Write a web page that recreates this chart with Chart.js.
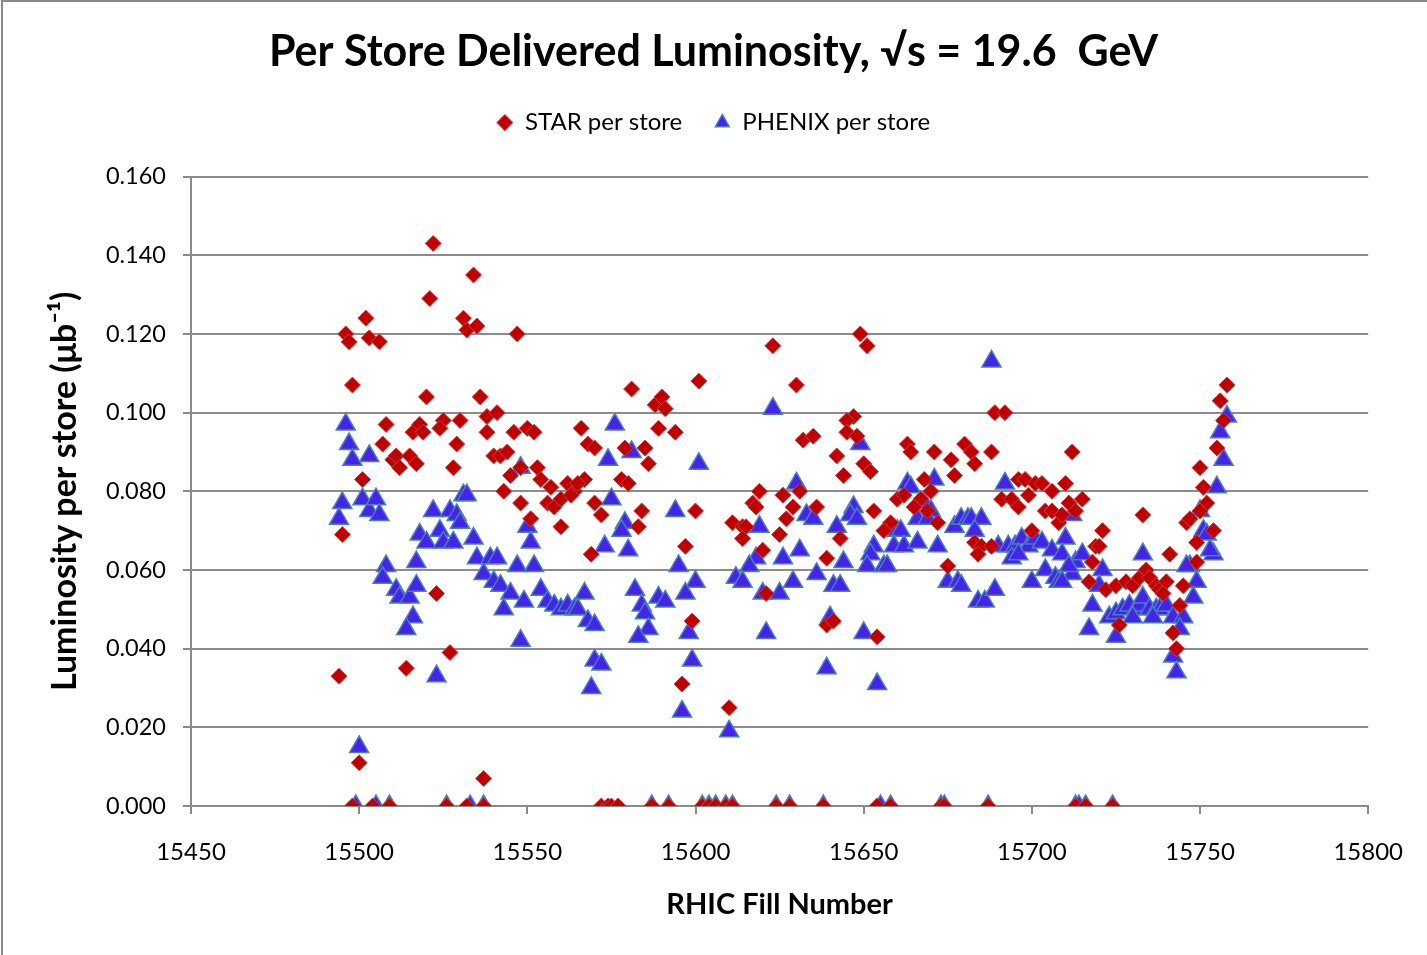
<!DOCTYPE html>
<html>
<head>
<meta charset="utf-8">
<script src="https://cdn.jsdelivr.net/npm/chart.js@4.4.1/dist/chart.umd.min.js"></script>
<style>
  html, body { margin: 0; padding: 0; background: #fff; }
  #wrap { width: 1427px; height: 955px; position: relative; }
</style>
</head>
<body>
<div id="wrap"><canvas id="c" width="1427" height="955"></canvas></div>
<script>
const chartTitle = 'Per Store Delivered Luminosity, \u221As = 19.6  GeV';
const xTitle = 'RHIC Fill Number';
const yTitle = 'Luminosity per store (\u03BCb\u207B\u00B9)';
const seriesNames = ['STAR per store', 'PHENIX per store'];

const starFills = [
15522,15534,15521,15502,15531,15532,15535,15496,15497,15503,15506,15547,15498,15520,15536,
15508,15516,15518,15519,15525,15524,15530,15529,15538,15541,15538,15546,15550,15552,15507,
15510,15511,15512,15515,15517,15528,15540,15542,15544,15501,15545,15548,15553,15554,15543,
15557,15556,15558,15560,15562,15564,15548,15560,15551,15495,15523,15494,15514,15527,15500,15537,
15498,15504,15509,15526,15532,15537,
15623,15601,15630,15581,15588,15590,15591,15566,15589,15594,15568,15570,15579,15585,15586,
15632,15635,15567,15565,15563,15578,15580,15570,15572,15584,15583,15569,15600,15597,15599,
15596,15610,15619,15617,15618,15626,15629,15631,15627,15611,15614,15615,15614,15625,15620,
15621,15636,15639,15639,
15572,15574,15575,15577,15587,15592,15602,15604,15606,15609,15611,15624,15628,15638,
15649,15651,15647,15645,15645,15648,15642,15644,15650,15652,15663,15664,15671,15676,15677,
15680,15682,15683,15688,15689,15692,15668,15712,15696,15698,15701,15703,15706,15710,15691,
15694,15696,15699,15704,15706,15708,15709,15711,15713,15660,15662,15670,15667,15653,15658,
15656,15643,15665,15669,15672,15683,15685,15684,15675,15688,15700,15641,15654,
15654,15658,15673,15674,15687,15713,
15758,15756,15757,15755,15750,15751,15752,15715,15733,15721,15719,15720,15718,15717,15746,
15747,15754,15749,15749,15741,15722,15725,15728,15730,15732,15734,15735,15737,15738,15740,
15739,15745,15744,15742,15743,15726,15750,
15716,15724
];
const starLumi = [
0.143,0.135,0.129,0.124,0.124,0.121,0.122,0.120,0.118,0.119,0.118,0.120,0.107,0.104,0.104,
0.097,0.095,0.097,0.095,0.098,0.096,0.098,0.092,0.099,0.100,0.095,0.095,0.096,0.095,0.092,
0.088,0.089,0.086,0.089,0.087,0.086,0.089,0.089,0.090,0.083,0.084,0.086,0.086,0.083,0.080,
0.081,0.077,0.076,0.078,0.082,0.080,0.077,0.071,0.073,0.069,0.054,0.033,0.035,0.039,0.011,0.007,
0,0,0,0,0,0,
0.117,0.108,0.107,0.106,0.102,0.104,0.101,0.096,0.096,0.095,0.092,0.091,0.091,0.091,0.087,
0.093,0.094,0.083,0.082,0.079,0.083,0.082,0.077,0.074,0.075,0.071,0.064,0.075,0.066,0.047,
0.031,0.025,0.080,0.077,0.076,0.079,0.076,0.080,0.073,0.072,0.071,0.071,0.068,0.069,0.065,
0.054,0.076,0.063,0.046,
0,0,0,0,0,0,0,0,0,0,0,0,0,0,
0.120,0.117,0.099,0.098,0.095,0.094,0.089,0.084,0.087,0.085,0.092,0.090,0.090,0.088,0.084,
0.092,0.090,0.087,0.090,0.100,0.100,0.083,0.090,0.083,0.083,0.082,0.082,0.080,0.082,0.078,
0.078,0.076,0.079,0.075,0.075,0.072,0.074,0.077,0.075,0.078,0.079,0.080,0.078,0.075,0.072,
0.070,0.068,0.076,0.075,0.072,0.067,0.066,0.064,0.061,0.066,0.070,0.047,0.043,
0,0,0,0,0,0,
0.107,0.103,0.098,0.091,0.086,0.081,0.077,0.078,0.074,0.070,0.066,0.066,0.062,0.057,0.072,
0.073,0.070,0.067,0.062,0.064,0.055,0.056,0.057,0.056,0.058,0.060,0.058,0.056,0.055,0.057,
0.054,0.056,0.051,0.044,0.040,0.046,0.075,
0,0
];

const phenixFills = [
15496,15497,15498,15503,15495,15494,15501,15503,15505,15506,15508,15507,15511,15512,15515,
15516,15514,15517,15517,15518,15520,15522,15524,15525,15528,15527,15529,15530,15531,15532,
15534,15523,15535,15537,15539,15541,15540,15542,15545,15543,15547,15549,15552,15554,15556,
15558,15560,15562,15564,15548,15548,15550,15551,15500,
15499,15505,15509,15526,15533,15537,
15576,15581,15574,15575,15579,15578,15573,15580,15594,15601,15595,15600,15597,15582,15584,
15585,15586,15583,15589,15591,15598,15599,15596,15610,15567,15565,15568,15570,15570,15572,
15569,15623,15630,15633,15635,15619,15618,15616,15612,15614,15626,15631,15620,15625,15629,
15636,15621,15639,15640,
15587,15592,15602,15604,15606,15609,15611,15624,15628,15638,
15688,15649,15692,15663,15664,15671,15647,15646,15642,15648,15668,15670,15666,15669,15660,
15661,15659,15662,15666,15672,15653,15652,15651,15656,15657,15644,15641,15643,15650,15654,
15677,15679,15681,15682,15685,15683,15675,15678,15679,15684,15686,15689,15690,15693,15695,
15697,15699,15701,15703,15694,15696,15706,15710,15709,15712,15713,15700,15704,15707,15708,15712,
15655,15658,15673,15674,15687,15713,
15758,15756,15757,15755,15750,15751,15752,15754,15753,15711,15709,15715,15721,15720,15718,
15717,15723,15725,15725,15727,15729,15731,15732,15733,15735,15737,15738,15740,15742,15730,
15736,15733,15747,15746,15749,15748,15745,15744,15742,15743,
15714,15716,15724
];
const phenixLumi = [
0.097,0.092,0.088,0.089,0.077,0.073,0.078,0.075,0.078,0.074,0.061,0.058,0.055,0.053,0.053,
0.048,0.045,0.056,0.062,0.069,0.067,0.075,0.070,0.067,0.067,0.075,0.074,0.072,0.079,0.079,
0.068,0.033,0.063,0.059,0.063,0.063,0.057,0.056,0.054,0.050,0.061,0.052,0.061,0.055,0.052,
0.051,0.050,0.051,0.050,0.042,0.086,0.071,0.067,0.015,
0,0,0,0,0,0,
0.097,0.090,0.088,0.078,0.072,0.070,0.066,0.065,0.075,0.087,0.061,0.057,0.054,0.055,0.051,
0.049,0.045,0.043,0.053,0.052,0.044,0.037,0.024,0.019,0.054,0.050,0.047,0.046,0.037,0.036,
0.030,0.101,0.082,0.074,0.073,0.071,0.063,0.061,0.058,0.057,0.063,0.065,0.054,0.054,0.057,
0.059,0.044,0.035,0.048,
0,0,0,0,0,0,0,0,0,0,
0.113,0.092,0.082,0.082,0.081,0.083,0.076,0.074,0.071,0.073,0.077,0.075,0.073,0.073,0.070,
0.070,0.066,0.066,0.067,0.066,0.066,0.064,0.061,0.061,0.061,0.062,0.056,0.056,0.044,0.031,
0.071,0.073,0.073,0.073,0.073,0.070,0.057,0.057,0.056,0.052,0.052,0.055,0.066,0.066,0.066,
0.068,0.066,0.068,0.067,0.063,0.064,0.065,0.068,0.064,0.074,0.062,0.057,0.060,0.058,0.057,0.059,
0,0,0,0,0,0,
0.099,0.095,0.088,0.081,0.075,0.070,0.069,0.064,0.065,0.061,0.057,0.064,0.060,0.056,0.051,
0.045,0.048,0.043,0.049,0.050,0.051,0.050,0.051,0.053,0.050,0.050,0.050,0.051,0.048,0.048,
0.048,0.064,0.061,0.061,0.057,0.053,0.048,0.045,0.038,0.034,
0,0,0
];

const xMin = 15450, xMax = 15800, xStep = 50;
const yMin = 0, yMax = 0.16, yStep = 0.02;

const zip = (xs, ys) => xs.map((x, i) => ({ x: x, y: ys[i] }));

const FONT = 'Lato, "Open Sans", "DejaVu Sans", sans-serif';

const frame = {
  id: 'frame',
  beforeLayout(chart) {
    const lg = chart.legend;
    if (lg && !lg._spacerPatched) {
      const origFit = lg.fit.bind(lg);
      lg.fit = function () { origFit(); this.height += 32; };
      lg._spacerPatched = true;
    }
  },
  afterDraw(chart) {
    const ctx = chart.ctx;
    ctx.save();
    ctx.strokeStyle = '#8a8a8a';
    ctx.lineWidth = 2;
    ctx.beginPath();
    ctx.moveTo(2, 955);
    ctx.lineTo(2, 1);
    ctx.lineTo(1427, 1);
    ctx.stroke();
    ctx.restore();
  }
};

new Chart(document.getElementById('c'), {
  type: 'scatter',
  data: {
    datasets: [
      {
        label: seriesNames[0],
        data: zip(starFills, starLumi),
        pointStyle: 'rectRot',
        pointRadius: 8,
        pointHoverRadius: 8,
        backgroundColor: '#C00000',
        borderColor: '#C84040',
        borderWidth: 1
      },
      {
        label: seriesNames[1],
        data: zip(phenixFills, phenixLumi),
        pointStyle: 'triangle',
        pointRadius: 11,
        pointHoverRadius: 11,
        backgroundColor: '#4324E8',
        borderColor: '#4A7EBB',
        borderWidth: 1.5
      }
    ]
  },
  options: {
    responsive: false,
    animation: false,
    layout: { padding: { left: 0, right: 0, top: 0, bottom: 0 } },
    plugins: {
      title: {
        display: true,
        text: chartTitle,
        color: '#000',
        font: { family: FONT, size: 43, weight: 'bold' },
        padding: { top: 26, bottom: 1 }
      },
      legend: {
        display: true,
        position: 'top',
        labels: {
          usePointStyle: true,
          boxHeight: 11.5,
          pointStyleWidth: 16,
          color: '#000',
          font: { family: FONT, size: 24 },
          padding: 32
        }
      },
      tooltip: { enabled: false }
    },
    scales: {
      x: {
        type: 'linear',
        min: xMin, max: xMax,
        afterFit(scale) { scale.height = 149; },
        ticks: {
          stepSize: xStep,
          color: '#000',
          font: { family: FONT, size: 24 },
          padding: 24,
          maxRotation: 0,
          callback: v => String(v)
        },
        grid: { drawOnChartArea: false, drawTicks: true, tickLength: 8, tickColor: '#8a8a8a', lineWidth: 2 },
        border: { display: true, color: '#8a8a8a', width: 2 },
        title: {
          display: true,
          text: xTitle,
          color: '#000',
          font: { family: FONT, size: 29, weight: 'bold' },
          padding: { top: 0, bottom: 33 }
        }
      },
      y: {
        type: 'linear',
        min: yMin, max: yMax,
        afterFit(scale) { scale.width = 191; },
        ticks: {
          stepSize: yStep,
          color: '#000',
          font: { family: FONT, size: 23.5 },
          padding: 17,
          callback: v => v.toFixed(3)
        },
        grid: { color: '#8c8c8c', lineWidth: 2, drawTicks: true, tickLength: 8, tickColor: '#8a8a8a' },
        border: { display: true, color: '#8a8a8a', width: 2 },
        title: {
          display: true,
          text: yTitle,
          color: '#000',
          font: { family: FONT, size: 34, weight: 'bold' },
          padding: { top: 45, bottom: 0 }
        }
      },
      yRightSpace: {
        type: 'linear',
        position: 'right',
        display: true,
        afterFit(scale) { scale.width = 57; },
        ticks: { display: false },
        grid: { display: false, drawOnChartArea: false },
        border: { display: false },
        title: { display: false }
      }
    }
  },
  plugins: [frame]
});
</script>
</body>
</html>
